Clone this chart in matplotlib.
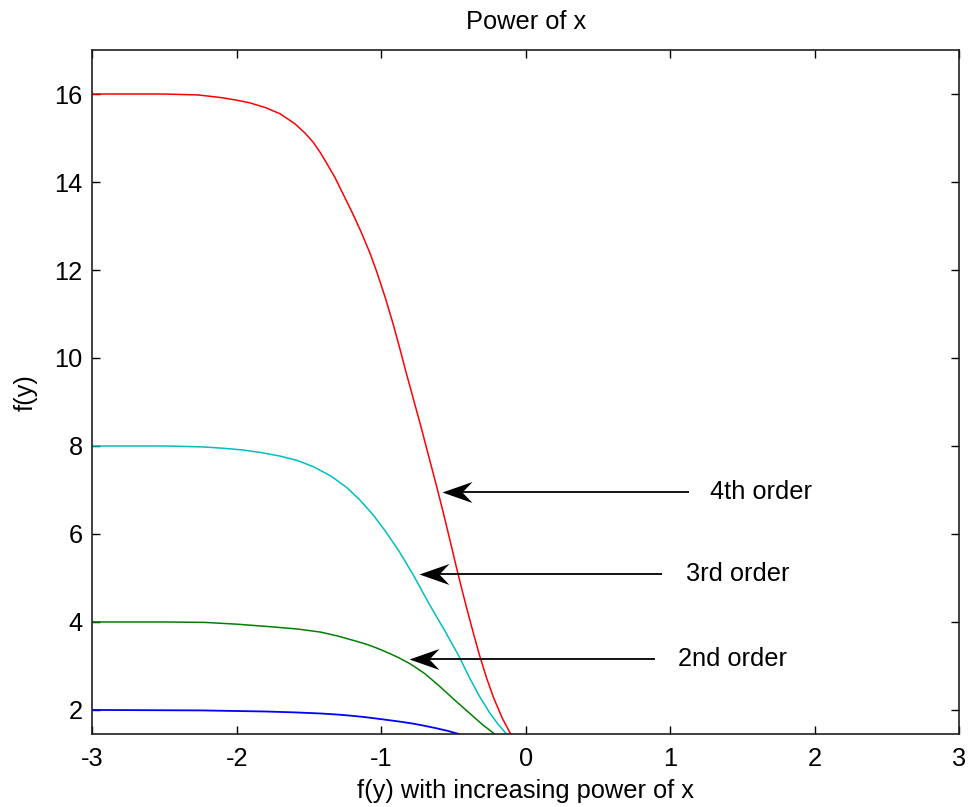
import matplotlib
matplotlib.use("Agg")
import matplotlib.pyplot as plt
from matplotlib.path import Path

# ---- data ----
x_order1 = [-3.0, -2.25, -1.8, -1.6, -1.42, -1.30, -1.21, -1.12, -1.045, -0.94, -0.86,
            -0.78, -0.70, -0.62, -0.54, -0.47, -0.44]
y_order1 = [2.0, 1.99, 1.965, 1.945, 1.92, 1.895, 1.87, 1.84, 1.81, 1.765, 1.73,
            1.69, 1.64, 1.585, 1.525, 1.46, 1.43]

x_order2 = [-3.0, -2.5, -2.22, -2.0, -1.76, -1.58, -1.42, -1.30, -1.17, -1.09,
            -1.01, -0.94, -0.88, -0.80, -0.70, -0.60, -0.50, -0.39, -0.30, -0.206, -0.19]
y_order2 = [4.0, 4.0, 3.99, 3.95, 3.89, 3.84, 3.77, 3.68, 3.56, 3.48,
            3.38, 3.28, 3.19, 3.05, 2.83, 2.55, 2.25, 1.93, 1.67, 1.43, 1.39]

x_order3 = [-3.0, -2.5, -2.24, -2.1, -1.96, -1.83, -1.70, -1.58, -1.47, -1.35,
            -1.24, -1.15, -1.06, -0.97, -0.875, -0.78, -0.67, -0.56, -0.46, -0.39,
            -0.32, -0.25, -0.19, -0.126, -0.11]
y_order3 = [8.0, 8.0, 7.98, 7.95, 7.91, 7.85, 7.77, 7.67, 7.53, 7.32,
            7.06, 6.78, 6.45, 6.06, 5.60, 5.08, 4.42, 3.80, 3.21, 2.74,
            2.31, 1.94, 1.67, 1.43, 1.38]

x_order4 = [-3.0, -2.5, -2.27, -2.11, -2.0, -1.91, -1.8, -1.70, -1.60, -1.53,
            -1.47, -1.42, -1.38, -1.32, -1.26, -1.20, -1.14, -1.08, -1.03, -0.97,
            -0.92, -0.87, -0.83, -0.78, -0.73, -0.69, -0.65, -0.61, -0.57, -0.52,
            -0.48, -0.44, -0.40, -0.36, -0.32, -0.27, -0.22, -0.16, -0.10, -0.09]
y_order4 = [16.0, 16.0, 15.98, 15.92, 15.86, 15.80, 15.69, 15.55, 15.33, 15.12,
            14.90, 14.66, 14.44, 14.10, 13.70, 13.30, 12.87, 12.40, 11.95, 11.35,
            10.80, 10.20, 9.70, 9.10, 8.50, 8.00, 7.50, 7.00, 6.48, 5.80,
            5.25, 4.72, 4.21, 3.72, 3.25, 2.72, 2.26, 1.80, 1.43, 1.37]

arrow_labels = ["4th order", "3rd order", "2nd order"]
arrow_y = [6.95, 5.08, 3.16]
arrow_tip_x = [-0.576, -0.737, -0.806]
arrow_tail_x = [1.128, 0.943, 0.893]
label_x = [1.275, 1.109, 1.054]

x_ticks = [-3, -2, -1, 0, 1, 2, 3]
y_ticks = [2, 4, 6, 8, 10, 12, 14, 16]

title_text = "Power of x"
xlabel_text = "f(y) with increasing power of x"
ylabel_text = "f(y)"

# ---- style ----
FONT = "Liberation Sans"
FS = 18.3
plt.rcParams["font.family"] = [FONT, "DejaVu Sans"]

fig = plt.figure(figsize=(9.68, 8.07), dpi=100)
ax = fig.add_axes([0.0954, 0.0901, 0.8953, 0.8479])

ax.plot(x_order1, y_order1, color=(0, 0, 1), lw=1.3)
ax.plot(x_order2, y_order2, color=(0, 0.5, 0), lw=1.1)
ax.plot(x_order3, y_order3, color=(0, 0.75, 0.75), lw=1.1)
ax.plot(x_order4, y_order4, color=(1, 0, 0), lw=1.1)

# arrowhead marker (tip at origin, pointing left, concave back)
head = Path([(0, 0), (30, 10.5), (20, 0), (30, -10.5), (0, 0)],
            [Path.MOVETO, Path.LINETO, Path.LINETO, Path.LINETO, Path.CLOSEPOLY])
for lab, yy, tx, tl, lx in zip(arrow_labels, arrow_y, arrow_tip_x, arrow_tail_x, label_x):
    ax.plot([tx + 0.05, tl], [yy, yy], color="black", lw=1.3, solid_capstyle="butt")
    ax.plot([tx], [yy], marker=head, markersize=43.2, color="black",
            markeredgewidth=0, linestyle="none")
    ax.text(lx, yy, lab, fontsize=FS, ha="left", va="center")

ax.set_xlim(-3, 3)
ax.set_ylim(1.447, 17.0)
ax.set_xticks(x_ticks)
ax.set_yticks(y_ticks)
ax.set_xticklabels([str(v) for v in x_ticks])
ax.set_yticklabels([str(v) for v in y_ticks])
ax.tick_params(axis="both", direction="in", length=5.8, width=1.0,
               top=True, right=True, labelsize=FS, colors="black")
ax.tick_params(axis="x", pad=9)
ax.tick_params(axis="y", pad=7)
for sp in ax.spines.values():
    sp.set_linewidth(1.2)
    sp.set_color("#202020")

ax.set_title(title_text, fontsize=FS, pad=15)
ax.set_xlabel(xlabel_text, fontsize=FS, labelpad=6)
ax.set_ylabel(ylabel_text, fontsize=FS, labelpad=12)

fig.savefig("out.png", dpi=100)
